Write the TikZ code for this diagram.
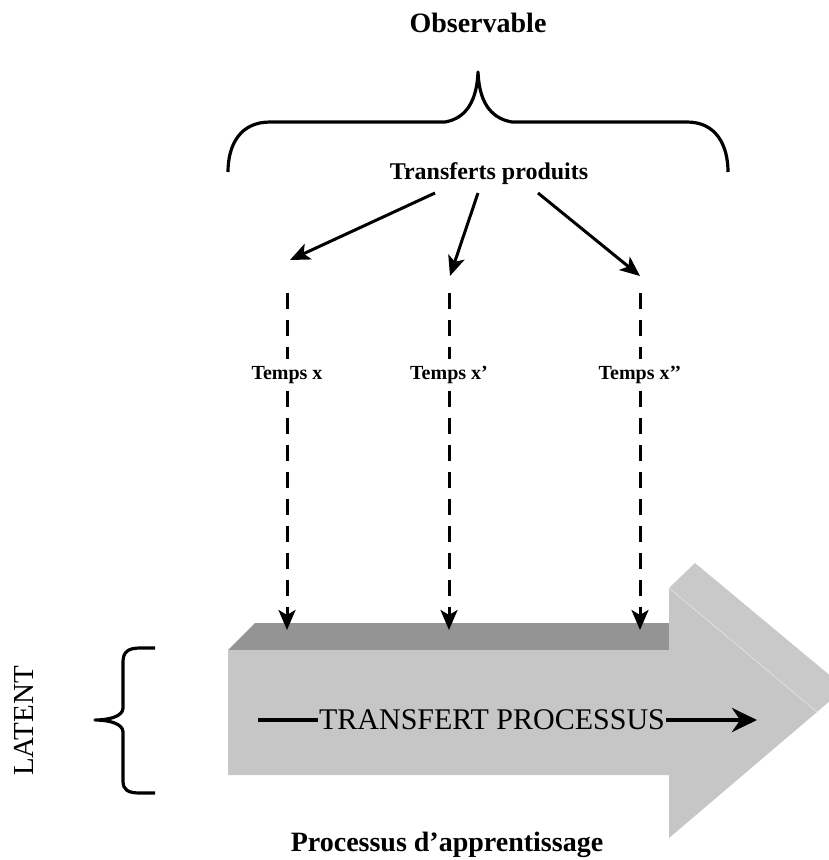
\documentclass[tikz,border=0pt]{standalone}
\usepackage{fontspec}
\setmainfont{Liberation Serif}
\usetikzlibrary{arrows.meta,calc}
\definecolor{topface}{HTML}{949494}
\definecolor{frontface}{HTML}{C6C6C6}
\definecolor{sideface}{HTML}{C9C9C9}

\begin{document}
\begin{tikzpicture}[x=1pt, y=-1pt, line join=round,
		heading/.style={font=\fontsize{28}{30}\selectfont\bfseries},
		timelabel/.style={font=\fontsize{20}{22}\selectfont\bfseries, inner sep=7pt},
		brace/.style={line width=3.2pt},
		pick/.style={line width=3pt, -{Stealth[length=20pt, width=17pt, inset=5pt]}},
		dashline/.style={line width=3pt, dash pattern=on 16pt off 11pt}]
		\useasboundingbox (0,0) rectangle (829,860);
		\clip (0,0) rectangle (829,860);
		% 3D process arrow
		\fill[sideface] (669,588) -- (695,563) -- (845,688) -- (817,712) -- cycle;
		\fill[topface] (228,650) -- (255,623) -- (669,623) -- (669,650) -- cycle;
		\fill[frontface] (228,650) -- (669,650) -- (669,588) -- (817,712) -- (669,838) -- (669,775) -- (228,775) -- cycle;
		\draw[white!80!gray, line width=0.6pt] (669,588) -- (817,712);
		% texts
		\node[heading] (observable) at (478,23) {Observable};
		\node[font=\fontsize{24}{26}\selectfont\bfseries] (produits) at (489,174) {Transferts produits};
		\node[heading] (apprentissage) at (447,845) {Processus d’apprentissage};
		\node[font=\fontsize{29}{31}\selectfont, rotate=90] (latent) at (24,721) {LATENT};
		\node[font=\fontsize{30}{32}\selectfont, inner sep=1pt] (processus) at (492,720) {TRANSFERT PROCESSUS};
		\coordinate (pstart) at (258,720);
		\coordinate (pend) at (757,720);
		\draw[line width=4.2pt] (pstart) -- (processus);
		\draw[line width=4.2pt, -{Stealth[length=25pt, width=24pt]}] (processus) -- (pend);
		% braces
		\draw[brace] (228,172) .. controls (228,145) and (240,122) .. (270,122) -- (445,122)
			.. controls (468,118) and (477,98) .. (478,72)
			.. controls (479,98) and (488,118) .. (512,122) -- (687,122)
			.. controls (716,122) and (728,145) .. (728,172);
		\draw[brace] (155,648) -- (140,648) .. controls (128,648) and (123,652) .. (123,662) -- (123,708)
			.. controls (123,716) and (110,720) .. (95,720)
			.. controls (110,720) and (123,724) .. (123,732) -- (123,781)
			.. controls (123,790) and (128,793) .. (140,793) -- (155,793);
		% time columns
		\foreach \name/\x/\sx/\ex/\ey/\txt in {a/287/435/290/260/{Temps x}, b/449/478/450/276/{Temps x’}, c/640/538/640/276/{Temps x’’}} {
			\coordinate (from\name) at (\sx,193);
			\coordinate (to\name) at (\ex,\ey);
			\coordinate (top\name) at (\x,293);
			\coordinate (tip\name) at (\x,630);
			\node[timelabel] (temps\name) at (\x,375) {\txt};
			\draw[pick] (from\name) -- (to\name);
			\draw[dashline] (top\name) -- (top\name |- temps\name.north);
			\draw[dashline, -{Stealth[length=20pt, width=17pt, inset=5pt]}] (tip\name |- temps\name.south) -- (tip\name);
		}
	\end{tikzpicture}
\end{document}
